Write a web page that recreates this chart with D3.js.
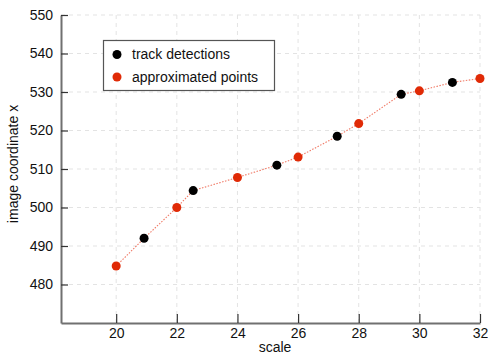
<!DOCTYPE html>
<html>
<head>
<meta charset="utf-8">
<script src="https://cdn.jsdelivr.net/npm/d3@7"></script>
<style>
  html, body { margin: 0; padding: 0; background: #fff; }
  svg { display: block; font-family: "Liberation Sans", Arial, sans-serif; }
</style>
</head>
<body>
<svg id="chart" width="488" height="356"></svg>
<script>
// Track detections at measured scales
const detScale = [20.92, 22.54, 25.30, 27.29, 29.40, 31.09];
const detX = [492.0, 504.4, 511.0, 518.5, 529.4, 532.5];
// Points approximated at integer scales
const apprScale = [20, 22, 24, 26, 28, 30, 32];
const apprX = [484.8, 500.0, 507.8, 513.1, 521.8, 530.3, 533.5];

const xTicks = [20, 22, 24, 26, 28, 30, 32];
const yTicks = [480, 490, 500, 510, 520, 530, 540, 550];
const legendLabels = ["track detections", "approximated points"];

const red = "#e02a06";
const svg = d3.select("#chart");

const x = d3.scaleLinear().domain([18.18, 32]).range([61, 480]);
const y = d3.scaleLinear().domain([470, 550]).range([323, 15]);

// grid
const grid = svg.append("g");
grid.selectAll(".gx").data(xTicks).join("line")
  .attr("x1", d => x(d)).attr("x2", d => x(d))
  .attr("y1", y(550)).attr("y2", y(470))
  .attr("stroke", "#e3e3e3").attr("stroke-dasharray", "4,4");
grid.selectAll(".gy").data(yTicks).join("line")
  .attr("x1", x(18.18)).attr("x2", x(32))
  .attr("y1", d => y(d)).attr("y2", d => y(d))
  .attr("stroke", "#e3e3e3").attr("stroke-dasharray", "4,4");

// axes
const xAxis = d3.axisBottom(x).tickValues(xTicks).tickSizeInner(-9).tickSizeOuter(0).tickPadding(5);
const yAxis = d3.axisLeft(y).tickValues(yTicks).tickSizeInner(-7).tickSizeOuter(0).tickPadding(8);

const gx = svg.append("g").attr("transform", `translate(0,${y(470)})`).call(xAxis);
const gy = svg.append("g").attr("transform", `translate(${x(18.18)},0)`).call(yAxis);
[gx, gy].forEach(g => {
  g.select(".domain").attr("stroke", "#707070").attr("stroke-width", 2);
  g.selectAll(".tick line").attr("stroke", "#333").attr("stroke-width", 1.2);
  g.selectAll(".tick text").attr("fill", "#111").style("font-size", "14px")
    .style("font-family", "'Liberation Sans', Arial, sans-serif");
});

// connecting dotted line through all points ordered by scale
const all = detScale.map((s, i) => ({s, v: detX[i]}))
  .concat(apprScale.map((s, i) => ({s, v: apprX[i]})))
  .sort((a, b) => a.s - b.s);
svg.append("path")
  .datum(all)
  .attr("d", d3.line().x(d => x(d.s)).y(d => y(d.v)))
  .attr("fill", "none").attr("stroke", "#f07a66").attr("stroke-width", 1.1)
  .attr("stroke-dasharray", "1.5,1.5");

svg.append("g").selectAll("circle").data(detScale).join("circle")
  .attr("cx", d => x(d)).attr("cy", (d, i) => y(detX[i])).attr("r", 4.5).attr("fill", "#000");
svg.append("g").selectAll("circle").data(apprScale).join("circle")
  .attr("cx", d => x(d)).attr("cy", (d, i) => y(apprX[i])).attr("r", 4.5).attr("fill", red);

// legend
const lg = svg.append("g");
lg.append("rect").attr("x", 103.5).attr("y", 40.5).attr("width", 171).attr("height", 50)
  .attr("fill", "#fff").attr("stroke", "#555").attr("stroke-width", 1.2);
const colors = ["#000", red];
legendLabels.forEach((t, i) => {
  lg.append("circle").attr("cx", 117).attr("cy", 54.5 + i * 22.5).attr("r", 4.5).attr("fill", colors[i]);
  lg.append("text").attr("x", 132).attr("y", 54.5 + i * 22.5).attr("dy", "0.35em")
    .style("font-size", "14px").attr("fill", "#111").text(t);
});

// axis titles
svg.append("text").attr("x", 275).attr("y", 352).attr("text-anchor", "middle")
  .style("font-size", "14px").attr("fill", "#111").text("scale");
svg.append("text").attr("transform", "translate(17.5,164) rotate(-90)").attr("text-anchor", "middle")
  .style("font-size", "14px").attr("fill", "#111").text("image coordinate x");
</script>
</body>
</html>
